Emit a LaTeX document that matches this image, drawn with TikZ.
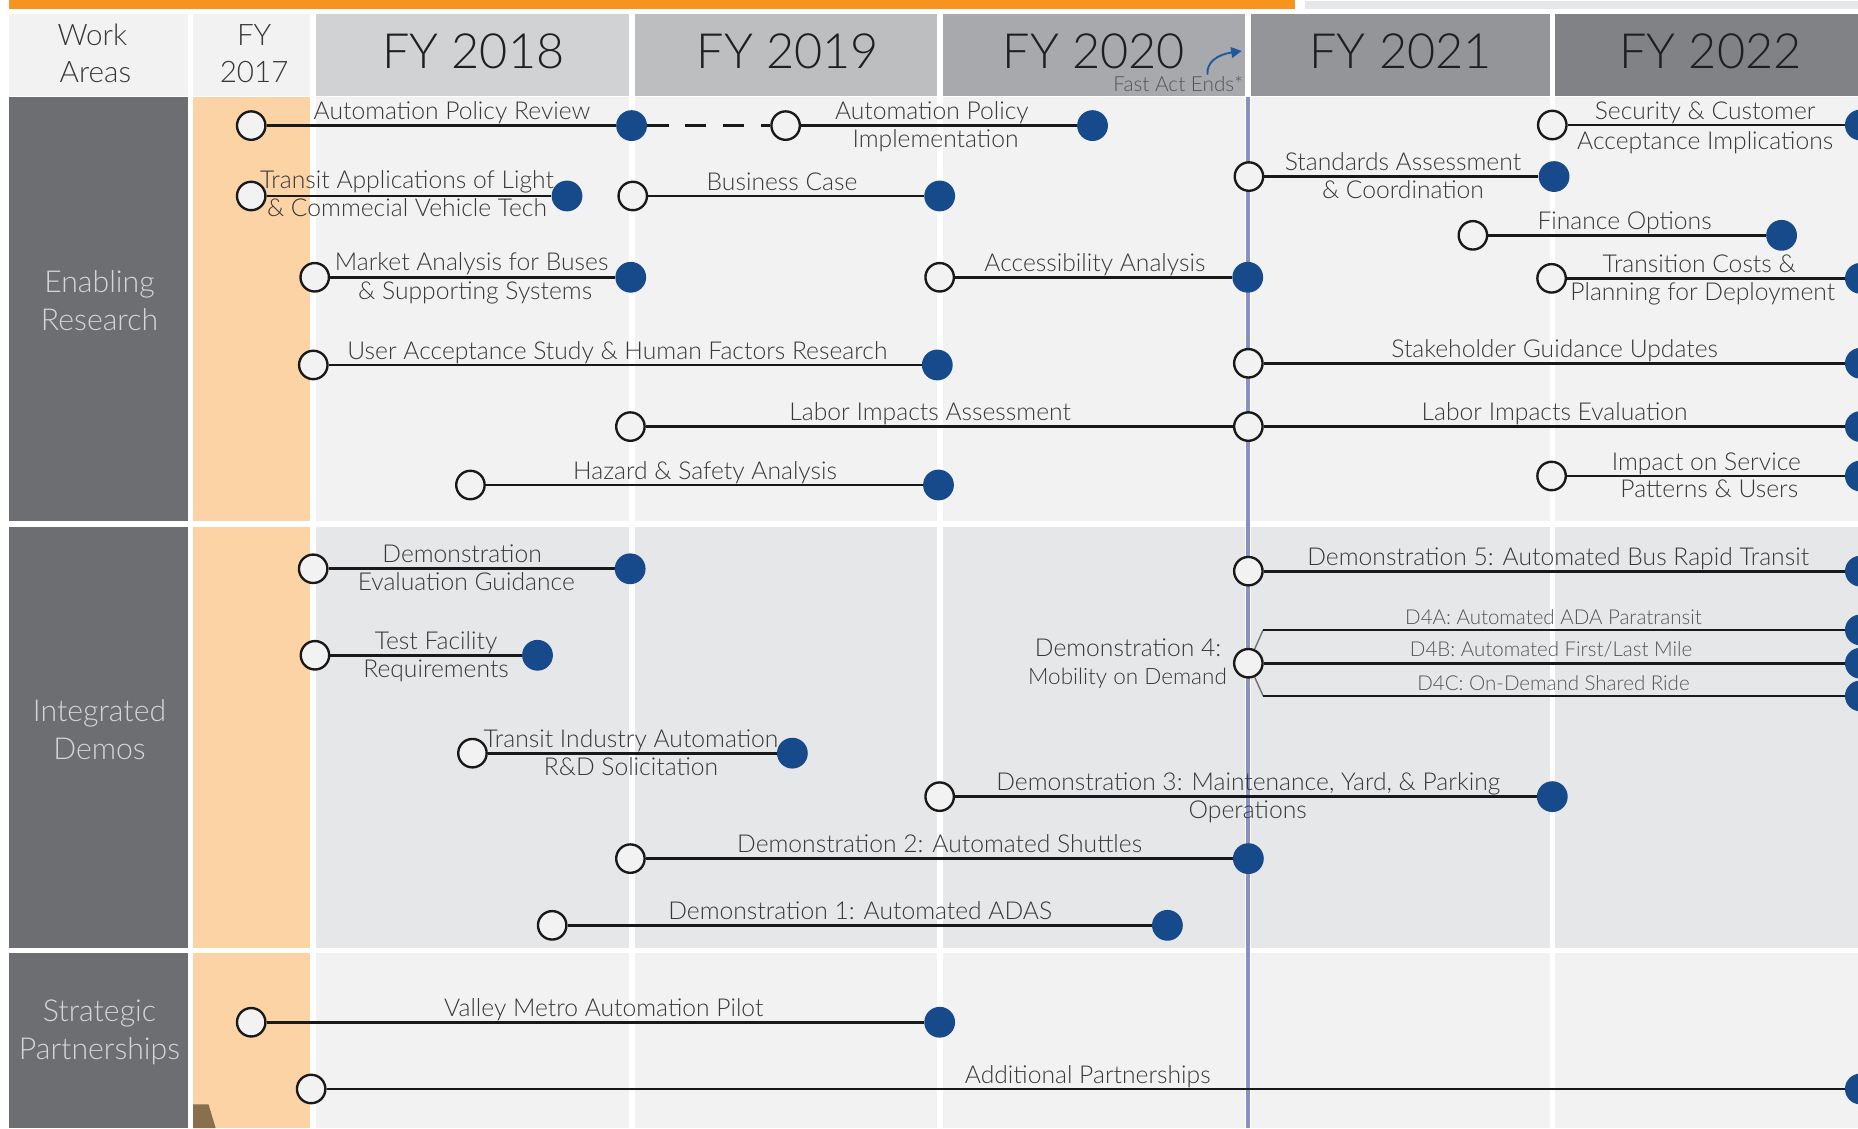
\documentclass[tikz,border=0pt]{standalone}
\usepackage{fontspec}
\setmainfont{Lato Light}
\usetikzlibrary{arrows.meta}
\definecolor{orangebar}{HTML}{F7941D}
\definecolor{lightbar}{HTML}{E6E7E8}
\definecolor{cellA}{HTML}{F2F2F2}
\definecolor{cellB}{HTML}{E6E7E8}
\definecolor{peach}{HTML}{FBD3A4}
\definecolor{rowgray}{HTML}{6D6E71}
\definecolor{hA}{HTML}{D1D2D4}
\definecolor{hB}{HTML}{BCBEC0}
\definecolor{hC}{HTML}{A7A9AC}
\definecolor{hD}{HTML}{939598}
\definecolor{hE}{HTML}{808285}
\definecolor{dotblue}{HTML}{164A8A}
\definecolor{vline}{HTML}{8A90C4}
\definecolor{txt}{HTML}{38383A}
\definecolor{subtxt}{HTML}{555558}
\definecolor{rowtxt}{HTML}{D4D5D7}
\definecolor{arrowblue}{HTML}{1F5A9E}
\definecolor{brownish}{HTML}{8A6F4E}
\begin{document}
\begin{tikzpicture}[x=1pt,y=-1pt,
  opn/.style={circle,draw=black!90,line width=2pt,fill=cellA,minimum size=24pt,inner sep=0pt},
  fil/.style={circle,fill=dotblue,minimum size=26pt,inner sep=0pt},
  tl/.style={line width=2.4pt,black!90},
  thinl/.style={line width=1.2pt,black!55},
  lab/.style={font=\fontsize{20.8}{24}\selectfont,text=txt,inner sep=0pt,anchor=base},
  sublab/.style={font=\fontsize{17.3}{21}\selectfont,text=subtxt,inner sep=0pt,anchor=base},
  hdr/.style={font=\fontsize{41}{46}\selectfont,text=black!88,inner sep=0pt,anchor=base},
  hdrs/.style={font=\fontsize{25}{29}\selectfont,text=black!78,inner sep=0pt,anchor=base},
  rowlab/.style={font=\fontsize{25.5}{30}\selectfont,text=rowtxt,inner sep=0pt,anchor=base},
]
\useasboundingbox (0,0) rectangle (1568,952);
\clip (0,0) rectangle (1568,952);
\fill[white] (0,0) rectangle (1568,952);
% top bars
\fill[orangebar] (8,0) rectangle (1093,8);
\fill[lightbar] (1101,1) rectangle (1568,8);
% header cells
\fill[cellA] (8,12) rectangle (159,81);
\fill[cellA] (163,12) rectangle (262,81);
\fill[hA] (267,12) rectangle (531,81);
\fill[hB] (536,12) rectangle (791,81);
\fill[hC] (796,12) rectangle (1051,81);
\fill[hD] (1056,12) rectangle (1308,81);
\fill[hE] (1312,12) rectangle (1568,81);
% row label cells
\fill[rowgray] (8,82) rectangle (159,440);
\fill[rowgray] (8,445) rectangle (159,800);
\fill[rowgray] (8,804) rectangle (159,952);
% FY2017 column
\fill[peach] (163,82) rectangle (262,440);
\fill[peach] (163,445) rectangle (262,800);
\fill[peach] (163,804) rectangle (262,952);
\fill[brownish] (163,932) -- (176,932) -- (182,952) -- (163,952) -- cycle;
% body cells
\foreach \xa/\xb in {267/531,536/791,796/1051,1056/1308,1312/1568}{
  \fill[cellA] (\xa,82) rectangle (\xb,440);
  \fill[cellB] (\xa,445) rectangle (\xb,800);
  \fill[cellA] (\xa,804) rectangle (\xb,952);
}
% FAST Act vertical line
\draw[vline,line width=3.2pt] (1053.5,82) -- (1053.5,952);

% header texts
\node[hdrs] (hw1) at (78,38) {Work};
\node[hdrs] (hw2) at (80.5,69.5) {Areas};
\node[hdrs] (hf1) at (214.5,38) {FY};
\node[hdrs] (hf2) at (214.5,69.5) {2017};
\node[hdr] (h18) at (399.5,58) {FY 2018};
\node[hdr] (h19) at (665,58) {FY 2019};
\node[hdr] (h20) at (923,58) {FY 2020};
\node[hdr] (h21) at (1182,58) {FY 2021};
\node[hdr] (h22) at (1443.5,58) {FY 2022};
\node[font=\fontsize{17.5}{20}\selectfont,text=subtxt,inner sep=0pt,anchor=base east] (fast) at (1049,77.5) {Fast Act Ends*};
\coordinate (arS) at (1019,63);
\coordinate (arE) at (1048,43);
\draw[arrowblue,line width=1.6pt,-{Triangle[length=9pt,width=9pt]}] (arS) .. controls (1018,52) and (1028,46) .. (arE);

% row labels
\node[rowlab] (r1a) at (84,247) {Enabling};
\node[rowlab] (r1b) at (84,278.5) {Research};
\node[rowlab] (r2a) at (84,609) {Integrated};
\node[rowlab] (r2b) at (84,641) {Demos};
\node[rowlab] (r3a) at (84,862) {Strategic};
\node[rowlab] (r3b) at (84,894.5) {Partnerships};

% ===== Enabling Research =====
\node[opn] (a1) at (212,106) {};
\node[fil] (b1) at (533,106) {};
\node[opn] (a2) at (663,106) {};
\node[fil] (b2) at (922,106) {};
\draw[tl] (a1) -- (b1);
\draw[tl,dash pattern=on 18pt off 14pt] (b1) -- (a2);
\draw[tl] (a2) -- (b2);
\node[lab] (t1) at (381.5,101) {Automation Policy Review};
\node[lab] (t2a) at (786.4,101) {Automation Policy};
\node[lab] (t2b) at (789.5,124.5) {Implementation};

\node[opn] (a3) at (212,165.4) {};
\node[fil] (b3) at (478.5,165.4) {};
\draw[tl] (a3) -- (b3);
\node[lab] (t3a) at (343.5,159) {Transit Applications of Light};
\node[lab] (t3b) at (343.5,183) {\& Commecial Vehicle Tech};

\node[opn] (a4) at (534,165.4) {};
\node[fil] (b4) at (793,165.4) {};
\draw[tl] (a4) -- (b4);
\node[lab] (t4) at (660,160.4) {Business Case};

\node[opn] (a5) at (265.6,234) {};
\node[fil] (b5) at (532.3,234) {};
\draw[tl] (a5) -- (b5);
\node[lab] (t5a) at (398,228) {Market Analysis for Buses};
\node[lab] (t5b) at (401,252.5) {\& Supporting Systems};

\node[opn] (a6) at (793,234) {};
\node[fil] (b6) at (1053,234) {};
\draw[tl] (a6) -- (b6);
\node[lab] (t6) at (924,229) {Accessibility Analysis};

\node[opn] (a7) at (264.4,308) {};
\node[fil] (b7) at (791,308) {};
\draw[tl] (a7) -- (b7);
\node[lab] (t7) at (521,303) {User Acceptance Study \& Human Factors Research};

\node[opn] (a8) at (532,360) {};
\node[opn] (a9) at (1053.5,360) {};
\node[fil] (b9) at (1570,360) {};
\draw[tl] (a8) -- (a9);
\draw[tl] (a9) -- (b9);
\node[lab] (t8) at (785,355) {Labor Impacts Assessment};
\node[lab] (t9) at (1312,355) {Labor Impacts Evaluation};

\node[opn] (a10) at (397,409.3) {};
\node[fil] (b10) at (792,409.3) {};
\draw[tl] (a10) -- (b10);
\node[lab] (t10) at (595,404.3) {Hazard \& Safety Analysis};

\node[opn] (a11) at (1054,149) {};
\node[fil] (b11) at (1311.5,149) {};
\draw[tl] (a11) -- (b11);
\node[lab] (t11a) at (1184,144) {Standards Assessment};
\node[lab] (t11b) at (1184,167.5) {\& Coordination};

\node[opn] (a12) at (1310,105.5) {};
\node[fil] (b12) at (1570,105.5) {};
\draw[tl] (a12) -- (b12);
\node[lab] (t12a) at (1439,100.7) {Security \& Customer};
\node[lab] (t12b) at (1439,126) {Acceptance Implications};

\node[opn] (a13) at (1243,198.6) {};
\node[fil] (b13) at (1503.5,198.6) {};
\draw[tl] (a13) -- (b13);
\node[lab] (t13) at (1371,193.6) {Finance Options};

\node[opn] (a14) at (1309.4,234.9) {};
\node[fil] (b14) at (1570,234.9) {};
\draw[tl] (a14) -- (b14);
\node[lab] (t14a) at (1434,229.9) {Transition Costs \&};
\node[lab] (t14b) at (1437,253.4) {Planning for Deployment};

\node[opn] (a15) at (1053.5,306.6) {};
\node[fil] (b15) at (1570,306.6) {};
\draw[tl] (a15) -- (b15);
\node[lab] (t15) at (1312,301.6) {Stakeholder Guidance Updates};

\node[opn] (a16) at (1309.4,401.7) {};
\node[fil] (b16) at (1570,401.7) {};
\draw[tl] (a16) -- (b16);
\node[lab] (t16a) at (1440,396.7) {Impact on Service};
\node[lab] (t16b) at (1442.5,420.2) {Patterns \& Users};

% ===== Integrated Demos =====
\node[opn] (a17) at (264.3,480) {};
\node[fil] (b17) at (531.8,480) {};
\draw[tl] (a17) -- (b17);
\node[lab] (t17a) at (390,475) {Demonstration};
\node[lab] (t17b) at (393.5,498.5) {Evaluation Guidance};

\node[opn] (a18) at (265.8,553) {};
\node[fil] (b18) at (453.6,553) {};
\draw[tl] (a18) -- (b18);
\node[lab] (t18a) at (368,548) {Test Facility};
\node[lab] (t18b) at (368,571.5) {Requirements};

\node[opn] (a19) at (398.7,635.6) {};
\node[fil] (b19) at (668.7,635.6) {};
\draw[tl] (a19) -- (b19);
\node[lab] (t19a) at (532.5,630.6) {Transit Industry Automation};
\node[lab] (t19b) at (532.5,654.1) {R\&D Solicitation};

\node[opn] (a20) at (793,672.3) {};
\node[fil] (b20) at (1310,672.3) {};
\draw[tl] (a20) -- (b20);
\node[lab] (t20a) at (1053.5,667.3) {Demonstration 3: Maintenance, Yard, \& Parking};
\node[lab] (t20b) at (1053,690.8) {Operations};

\node[opn] (a21) at (532,724.6) {};
\node[fil] (b21) at (1053.5,724.6) {};
\draw[tl] (a21) -- (b21);
\node[lab] (t21) at (793,719.6) {Demonstration 2: Automated Shuttles};

\node[opn] (a22) at (466,780.9) {};
\node[fil] (b22) at (985.2,780.9) {};
\draw[tl] (a22) -- (b22);
\node[lab] (t22) at (726,775.9) {Demonstration 1: Automated ADAS};

\node[opn] (a23) at (1053.5,482) {};
\node[fil] (b23) at (1570,482) {};
\draw[tl] (a23) -- (b23);
\node[lab] (t23) at (1315,477) {Demonstration 5: Automated Bus Rapid Transit};

% Demonstration 4 with branches
\node[opn] (a24) at (1053.5,559.7) {};
\coordinate (c24a) at (1066,531.6);
\coordinate (c24c) at (1066,587.3);
\node[fil] (b24a) at (1570,531.6) {};
\node[fil] (b24b) at (1570,559.7) {};
\node[fil] (b24c) at (1570,587.3) {};
\draw[thinl] (a24) -- (c24a);
\draw[thinl] (a24) -- (c24c);
\draw[tl] (c24a) -- (b24a);
\draw[tl] (a24) -- (b24b);
\draw[tl] (c24c) -- (b24c);
\node[lab] (t24a) at (952,554) {Demonstration 4:};
\node[lab,font=\fontsize{19}{22}\selectfont] (t24b) at (951.5,577.5) {Mobility on Demand};
\node[sublab] (t24c) at (1311,526.9) {D4A: Automated ADA Paratransit};
\node[sublab] (t24d) at (1309,554.2) {D4B: Automated First/Last Mile};
\node[sublab] (t24e) at (1311,582.3) {D4C: On-Demand Shared Ride};

% ===== Strategic Partnerships =====
\node[opn] (a25) at (212,862.7) {};
\node[fil] (b25) at (793,862.7) {};
\draw[tl] (a25) -- (b25);
\node[lab] (t25) at (509.5,857.7) {Valley Metro Automation Pilot};

\node[opn] (a26) at (262.6,919) {};
\node[fil] (b26) at (1570,919) {};
\draw[tl] (a26) -- (b26);
\node[lab] (t26) at (918,914) {Additional Partnerships};
\end{tikzpicture}
\end{document}
